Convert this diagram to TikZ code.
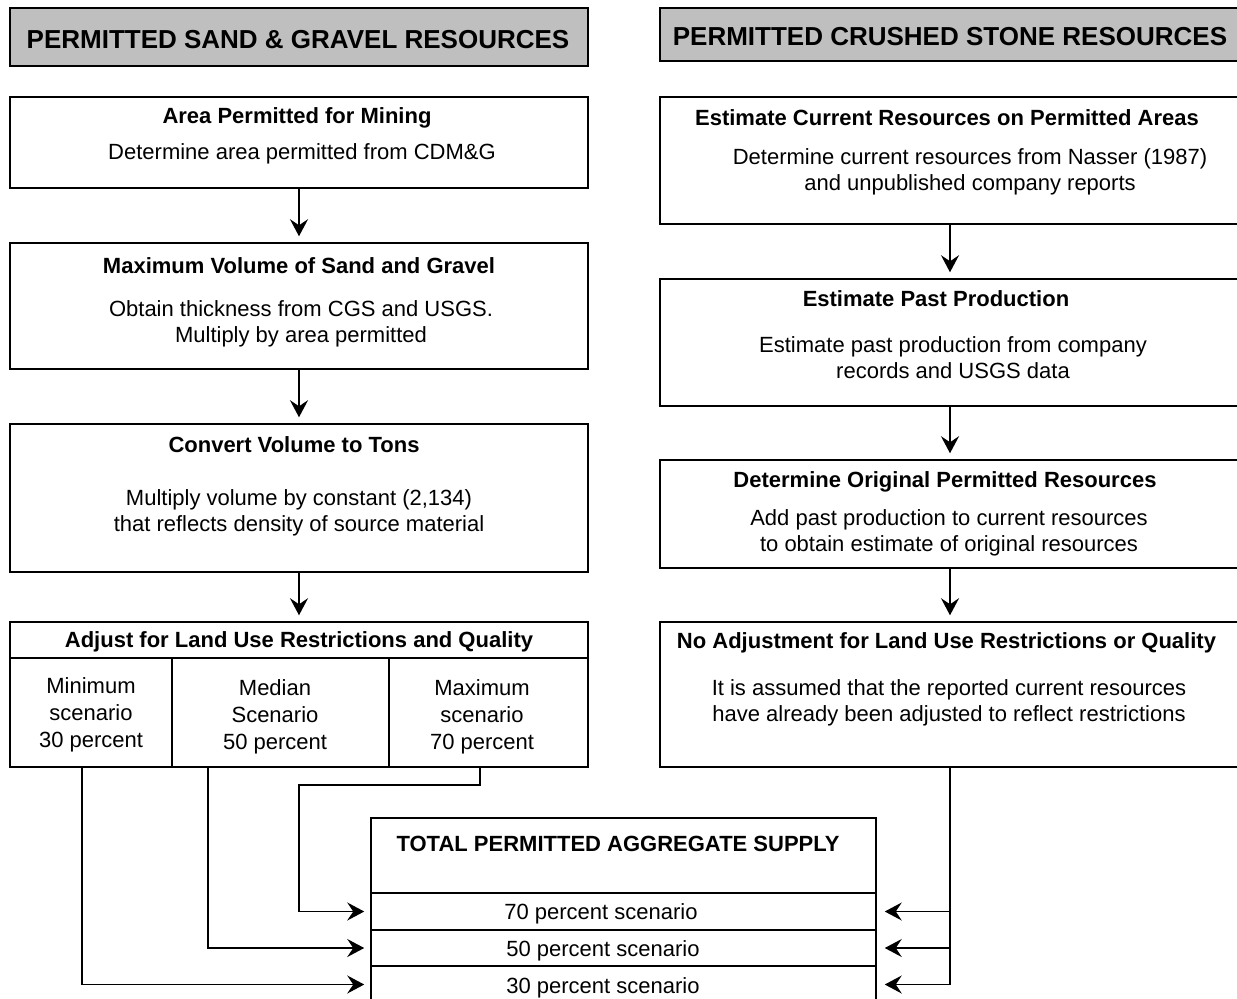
\documentclass[tikz,border=0pt]{standalone}
\usepackage{fontspec}
\setmainfont{Liberation Sans}
\usetikzlibrary{arrows.meta}

\begin{document}
\begin{tikzpicture}[
            x=0.5pt, y=-0.5pt,
            font=\fontsize{11}{13}\selectfont,
            >={Stealth[length=8.5pt, width=9pt, inset=3pt]},
            hdr/.style ={draw, line width=0.9pt, fill=black!25, inner sep=0pt,
                         font=\fontsize{13}{15}\selectfont\bfseries},
            sbox/.style={draw, line width=0.75pt, inner sep=0pt},
            ttl/.style ={inner sep=0pt, yshift=-1pt, font=\fontsize{11}{13}\selectfont\bfseries},
            txt/.style ={inner sep=0pt, yshift=-1pt, align=center},
            arr/.style ={->, line width=0.8pt, shorten >=3pt}
        ]
        \useasboundingbox (0,0) rectangle (1237,998);
        \clip (0,0) rectangle (1237,998);

        %% ---- column headers ------------------------------------------------
        \node[hdr, minimum width=289pt, minimum height=29pt] (sghdr) at (299,37) {};
        \node[ttl, font=\fontsize{13}{15}\selectfont\bfseries] (sghdrtxt) at (298,38)
            {PERMITTED SAND \& GRAVEL RESOURCES};
        \node[hdr, minimum width=290pt, minimum height=26.5pt] (cshdr) at (950,34.5) {};
        \node[ttl, font=\fontsize{13}{15}\selectfont\bfseries] (cshdrtxt) at (950,35)
            {PERMITTED CRUSHED STONE RESOURCES};

        %% ---- left column: sand and gravel ----------------------------------
        \node[sbox, minimum width=289pt, minimum height=45.5pt] (area) at (299,142.5) {};
        \node[ttl] (areattl) at (297,116) {Area Permitted for Mining};
        \node[txt] (areatxt) at (302,152) {Determine area permitted from CDM\&G};

        \node[sbox, minimum width=289pt, minimum height=63pt] (maxvol) at (299,306) {};
        \node[ttl] (maxvolttl) at (299,264) {Maximum Volume of Sand and Gravel};
        \node[txt] (maxvoltxt) at (301,322) {Obtain thickness from CGS and USGS.\\Multiply by area permitted};

        \node[sbox, minimum width=289pt, minimum height=74pt] (convert) at (299,498) {};
        \node[ttl] (convertttl) at (294,443) {Convert Volume to Tons};
        \node[txt] (converttxt) at (299,511) {Multiply volume by constant (2,134)\\that reflects density of source material};

        % adjustment table: header row and three scenario cells
        \node[sbox, minimum width=289pt, minimum height=18pt] (adjust) at (299,640) {};
        \node[ttl] (adjustttl) at (299,640) {Adjust for Land Use Restrictions and Quality};
        \node[sbox, minimum width=81pt, minimum height=54.5pt] (colmin) at (91,712.5) {};
        \node[sbox, minimum width=108.5pt, minimum height=54.5pt] (colmed) at (280.5,712.5) {};
        \node[sbox, minimum width=99.5pt, minimum height=54.5pt] (colmax) at (488.5,712.5) {};
        \node[txt, font=\fontsize{11}{13.5}\selectfont] (colmintxt) at (91,713) {Minimum\\scenario\\30 percent};
        \node[txt, font=\fontsize{11}{13.5}\selectfont] (colmedtxt) at (275,715) {Median\\Scenario\\50 percent};
        \node[txt, font=\fontsize{11}{13.5}\selectfont] (colmaxtxt) at (482,715) {Maximum\\scenario\\70 percent};

        \draw[arr] (area) -- (maxvol);
        \draw[arr] (maxvol) -- (convert);
        \draw[arr] (convert) -- (adjust);

        %% ---- right column: crushed stone -----------------------------------
        \node[sbox, minimum width=290pt, minimum height=63.5pt] (estcur) at (950,160.5) {};
        \node[ttl] (estcurttl) at (947,116) {Estimate Current Resources on Permitted Areas};
        \node[txt] (estcurtxt) at (970,170) {Determine current resources from Nasser (1987)\\and unpublished company reports};

        \node[sbox, minimum width=290pt, minimum height=63.5pt] (past) at (950,342.5) {};
        \node[ttl] (pastttl) at (936,297) {Estimate Past Production};
        \node[txt] (pasttxt) at (953,356) {Estimate past production from company\\records and USGS data};

        \node[sbox, minimum width=290pt, minimum height=54pt] (orig) at (950,514) {};
        \node[ttl] (origttl) at (945,480) {Determine Original Permitted Resources};
        \node[txt] (origtxt) at (949,531) {Add past production to current resources\\to obtain estimate of original resources};

        \node[sbox, minimum width=290pt, minimum height=72.5pt] (noadj) at (950,694.5) {};
        \node[ttl] (noadjttl) at (946.5,641) {No Adjustment for Land Use Restrictions or Quality};
        \node[txt] (noadjtxt) at (949,701) {It is assumed that the reported current resources\\have already been adjusted to reflect restrictions};

        \draw[arr] (estcur) -- (past);
        \draw[arr] (past) -- (orig);
        \draw[arr] (orig) -- (noadj);

        %% ---- bottom: total supply with three scenario rows ------------------
        \node[sbox, minimum width=252.5pt, minimum height=37.5pt] (supply) at (623.5,855.5) {};
        \node[ttl] (supplyttl) at (618,842) {TOTAL PERMITTED AGGREGATE SUPPLY};
        \node[sbox, minimum width=252.5pt, minimum height=18.5pt] (row70) at (623.5,911.5) {};
        \node[sbox, minimum width=252.5pt, minimum height=18pt] (row50) at (623.5,948) {};
        \node[sbox, minimum width=252.5pt, minimum height=18.5pt] (row30) at (623.5,984.5) {};
        \node[txt] (row70txt) at (601,912) {70 percent scenario};
        \node[txt] (row50txt) at (603,949) {50 percent scenario};
        \node[txt] (row30txt) at (603,986) {30 percent scenario};

        % scenario feeds from the left table
        \coordinate (maxbend) at (299,785);
        \draw[arr] ([xshift=-4.25pt]colmax.south) |- (maxbend) |- (row70.west);
        \draw[arr] ([xshift=-36.25pt]colmed.south) |- (row50.west);
        \draw[arr] ([xshift=-4.5pt]colmin.south) |- (row30.west);

        % crushed stone feeds every scenario
        \draw[arr, shorten >=4pt] (noadj.south) |- (row70.east);
        \draw[arr, shorten >=4pt] (noadj.south) |- (row50.east);
        \draw[arr, shorten >=4pt] (noadj.south) |- (row30.east);
    \end{tikzpicture}
\end{document}
